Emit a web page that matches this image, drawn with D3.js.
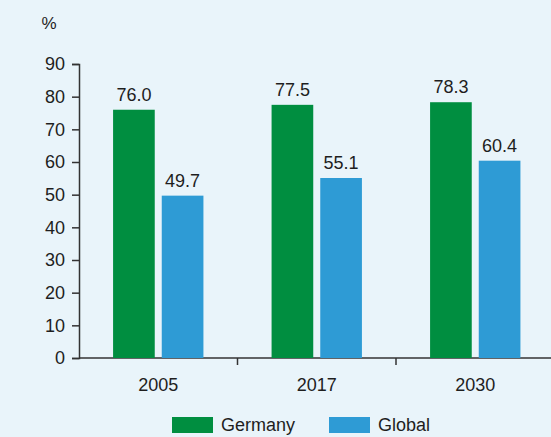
<!DOCTYPE html>
<html>
<head>
<meta charset="utf-8">
<script src="https://cdn.jsdelivr.net/npm/d3@7"></script>
<style>
  html, body { margin: 0; padding: 0; background: #e9f4fa; }
  text { font-family: Helvetica, Arial, "Liberation Sans", sans-serif; fill: #1e1e1e; }
</style>
</head>
<body>
<div id="chart"></div>
<script>
var years = ["2005", "2017", "2030"];
var series = ["Germany", "Global"];
var germany = [76.0, 77.5, 78.3];
var global = [49.7, 55.1, 60.4];
var yTicks = [0, 10, 20, 30, 40, 50, 60, 70, 80, 90];
var colors = ["#008e40", "#2e9bd5"];

var width = 551, height = 437;

var svg = d3.select("#chart").append("svg")
    .attr("width", width)
    .attr("height", height);

svg.append("rect")
    .attr("width", width)
    .attr("height", height)
    .attr("fill", "#e9f4fa");

var x0 = d3.scaleBand()
    .domain(years)
    .range([79, 554.5])
    .padding(0);

var x1 = d3.scaleBand()
    .domain(series)
    .range([0, x0.bandwidth()])
    .paddingInner(0.144)
    .paddingOuter(0.7);

var y = d3.scaleLinear()
    .domain([0, 90])
    .range([358, 64]);

// y axis
var yAxis = svg.append("g")
    .attr("transform", "translate(79,0)")
    .call(d3.axisLeft(y).tickValues(yTicks).tickSize(7).tickPadding(7).tickSizeOuter(7));
yAxis.select(".domain").attr("stroke", "#333").attr("stroke-width", 1.5);
yAxis.selectAll(".tick line").attr("stroke", "#333").attr("stroke-width", 1.5);
yAxis.selectAll(".tick text")
    .attr("font-size", 18)
    .attr("font-family", "Helvetica, Arial, 'Liberation Sans', sans-serif")
    .attr("fill", "#1e1e1e");

// x axis line
svg.append("line")
    .attr("x1", 79).attr("x2", width)
    .attr("y1", y(0)).attr("y2", y(0))
    .attr("stroke", "#333").attr("stroke-width", 1.5);

// dividers between categories
svg.selectAll(".divider")
    .data(years.slice(1))
    .enter().append("line")
    .attr("class", "divider")
    .attr("x1", function(d) { return x0(d); })
    .attr("x2", function(d) { return x0(d); })
    .attr("y1", y(0))
    .attr("y2", y(0) + 7)
    .attr("stroke", "#333").attr("stroke-width", 1.5);

// category labels
svg.selectAll(".cat")
    .data(years)
    .enter().append("text")
    .attr("class", "cat")
    .attr("x", function(d) { return x0(d) + x0.bandwidth() / 2; })
    .attr("y", 391)
    .attr("text-anchor", "middle")
    .attr("font-size", 18)
    .text(function(d) { return d; });

// unit label
svg.append("text")
    .attr("x", 49).attr("y", 29)
    .attr("text-anchor", "middle")
    .attr("font-size", 17)
    .text("%");

var rows = [];
years.forEach(function(yr, i) {
    rows.push({ year: yr, key: "Germany", value: germany[i] });
    rows.push({ year: yr, key: "Global", value: global[i] });
});

var color = d3.scaleOrdinal().domain(series).range(colors);

svg.selectAll(".bar")
    .data(rows)
    .enter().append("rect")
    .attr("class", "bar")
    .attr("x", function(d) { return x0(d.year) + x1(d.key); })
    .attr("y", function(d) { return y(d.value); })
    .attr("width", x1.bandwidth())
    .attr("height", function(d) { return y(0) - y(d.value); })
    .attr("fill", function(d) { return color(d.key); });

svg.selectAll(".val")
    .data(rows)
    .enter().append("text")
    .attr("class", "val")
    .attr("x", function(d) { return x0(d.year) + x1(d.key) + x1.bandwidth() / 2; })
    .attr("y", function(d) { return y(d.value) - 9; })
    .attr("text-anchor", "middle")
    .attr("font-size", 18)
    .text(function(d) { return d.value.toFixed(1); });

// legend
var legendX = [172, 329];
var legend = svg.selectAll(".legend")
    .data(series)
    .enter().append("g")
    .attr("class", "legend")
    .attr("transform", function(d, i) { return "translate(" + legendX[i] + ",417)"; });

legend.append("rect")
    .attr("width", 41)
    .attr("height", 16)
    .attr("fill", function(d) { return color(d); });

legend.append("text")
    .attr("x", 49)
    .attr("y", 14)
    .attr("font-size", 18)
    .text(function(d) { return d; });
</script>
</body>
</html>
